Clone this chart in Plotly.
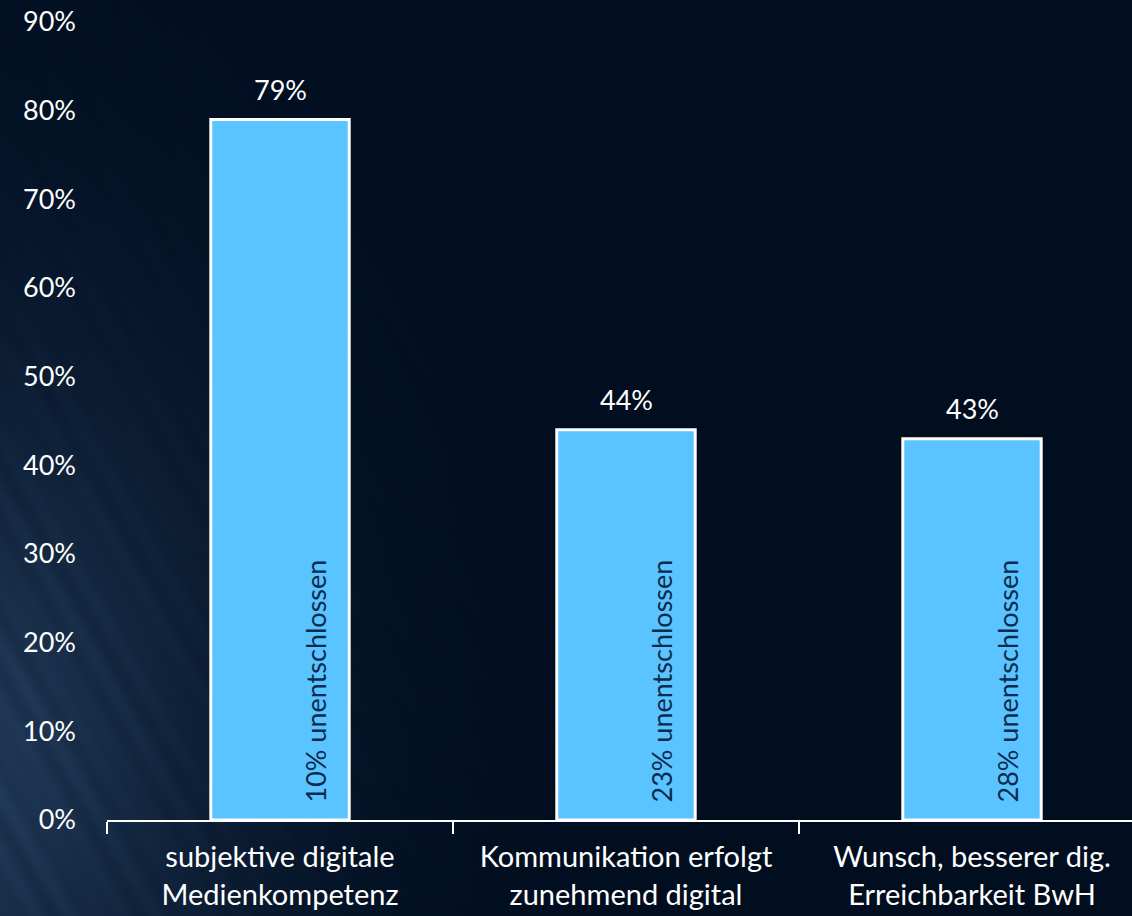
import base64
import struct
import zlib

import numpy as np
import plotly.graph_objects as go

# --- data -------------------------------------------------------------
categories = [
    "subjektive digitale<br>Medienkompetenz",
    "Kommunikation erfolgt<br>zunehmend digital",
    "Wunsch, besserer dig.<br>Erreichbarkeit BwH",
]
zustimmung = [79, 44, 43]          # share agreeing, in %
unentschlossen = [10, 23, 28]      # share undecided, in %
y_ticks = [0, 10, 20, 30, 40, 50, 60, 70, 80, 90]

W, H = 1132, 916
FONT = "Lato"
BAR_COLOR = "#59C4FF"
BG = np.array([1, 14, 32], dtype=float)


def png_data_uri(rgb):
    """Encode an (h, w, 3) uint8 array as a PNG data URI."""
    h, w, _ = rgb.shape
    raw = b"".join(b"\x00" + rgb[r].tobytes() for r in range(h))

    def chunk(tag, data):
        c = struct.pack(">I", len(data)) + tag + data
        return c + struct.pack(">I", zlib.crc32(tag + data) & 0xFFFFFFFF)

    png = b"\x89PNG\r\n\x1a\n"
    png += chunk(b"IHDR", struct.pack(">IIBBBBB", w, h, 8, 2, 0, 0, 0))
    png += chunk(b"IDAT", zlib.compress(raw, 9))
    png += chunk(b"IEND", b"")
    return "data:image/png;base64," + base64.b64encode(png).decode()


# dark navy backdrop with a soft bluish glow and faint streaks in the lower left
yy, xx = np.mgrid[0:H, 0:W].astype(float)
d = np.hypot((xx + 20) / 1.0, (yy - 760) / 1.6)
glow = np.exp(-(d / 250.0) ** 1.6)
u = xx * 0.87 - yy * 0.5
streak = 0.5 + 0.5 * np.sin(u * 0.21) * np.sin(u * 0.037 + 1.0)
glow = glow * (0.85 + 0.25 * streak)
light = np.array([32, 56, 86], dtype=float)
img = BG[None, None, :] + glow[..., None] * (light - BG)[None, None, :]
img = np.clip(img, 0, 255).astype(np.uint8)
bg_uri = png_data_uri(img)

fig = go.Figure()
fig.add_trace(
    go.Bar(
        x=categories,
        y=zustimmung,
        marker=dict(color=BAR_COLOR, line=dict(color="white", width=3)),
        width=0.4,
        hoverinfo="skip",
    )
)

# value labels above the bars
for cat, v in zip(categories, zustimmung):
    fig.add_annotation(
        x=cat, y=v, xref="x", yref="y",
        text=f"{v}%", showarrow=False,
        xanchor="center", yanchor="bottom", yshift=12,
        font=dict(family=FONT, size=27, color="white"),
    )

# undecided share, written vertically inside each bar
for cat, u_val in zip(categories, unentschlossen):
    fig.add_annotation(
        x=cat, y=0, xref="x", yref="y",
        text=f"{u_val}% unentschlossen",
        textangle=-90, showarrow=False,
        xanchor="center", yanchor="bottom",
        xshift=35, yshift=15,
        font=dict(family=FONT, size=27, color="#0B2A4C"),
    )

plot_left = 107
top, bottom = 22, 96
fig.update_layout(
    width=W,
    height=H,
    margin=dict(l=plot_left, r=0, t=top, b=bottom),
    paper_bgcolor="#010E20",
    plot_bgcolor="rgba(0,0,0,0)",
    showlegend=False,
    font=dict(family=FONT, color="white"),
    images=[dict(
        source=bg_uri, xref="paper", yref="paper",
        x=-plot_left / (W - plot_left), y=1 + top / (H - top - bottom),
        sizex=W / (W - plot_left), sizey=H / (H - top - bottom),
        xanchor="left", yanchor="top", layer="below", sizing="stretch",
    )],
)

# category slots are 346 px wide; the last slot runs slightly past the page edge
slot = 346.0
x_max = -0.5 + (W - plot_left) / slot
fig.update_xaxes(
    type="category",
    range=[-0.5, x_max],
    showline=True,
    linecolor="white",
    linewidth=2,
    ticks="outside",
    tickson="boundaries",
    ticklen=12,
    tickwidth=2,
    tickcolor="white",
    showgrid=False,
    zeroline=False,
    ticklabelstandoff=10,
    tickfont=dict(family=FONT, size=29, color="white"),
)
fig.update_yaxes(
    range=[0, 90],
    tickvals=y_ticks,
    ticktext=[f"{v}%" for v in y_ticks],
    showgrid=False,
    zeroline=False,
    showline=False,
    ticks="",
    ticklabelstandoff=30,
    tickfont=dict(family=FONT, size=27, color="white"),
)

fig.write_html("out.html")
